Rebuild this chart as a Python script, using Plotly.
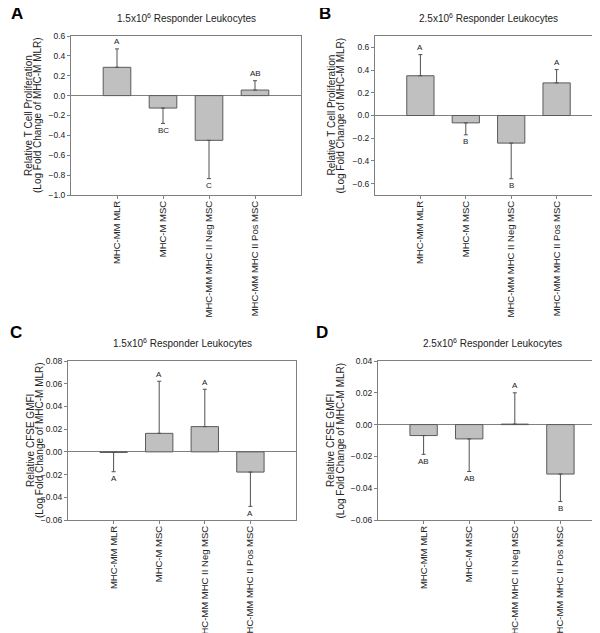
import plotly.graph_objects as go

# ---------------- data ----------------
categories = ["MHC-MM MLR", "MHC-M MSC", "MHC-MM MHC II Neg MSC", "MHC-MM MHC II Pos MSC"]

a_mean = [0.285, -0.125, -0.45, 0.056]
a_err = [0.185, 0.155, 0.385, 0.094]
a_letters = ["A", "BC", "C", "AB"]

b_mean = [0.35, -0.065, -0.243, 0.287]
b_err = [0.186, 0.105, 0.314, 0.117]
b_letters = ["A", "B", "B", "A"]

c_mean = [-0.0005, 0.0163, 0.0222, -0.0178]
c_err = [0.017, 0.0459, 0.0329, 0.0302]
c_letters = ["A", "A", "A", "A"]

d_mean = [-0.0069, -0.009, 0.0003, -0.0311]
d_err = [0.0118, 0.0205, 0.0197, 0.0173]
d_letters = ["AB", "AB", "A", "B"]

panel_letters = ["A", "B", "C", "D"]
panel_titles = ["1.5x10<sup>6</sup> Responder Leukocytes", "2.5x10<sup>6</sup> Responder Leukocytes",
                "1.5x10<sup>6</sup> Responder Leukocytes", "2.5x10<sup>6</sup> Responder Leukocytes"]
ytitle_line1 = ["Relative T Cell Proliferation", "Relative T Cell Proliferation",
                "Relative CFSE GMFI", "Relative CFSE GMFI"]
ytitle_line2 = ["(Log Fold Change of MHC-M MLR)"] * 4
yranges = [[-1.0, 0.6], [-0.7, 0.7], [-0.06, 0.08], [-0.06, 0.04]]
ytickvals = [[-1.0, -0.8, -0.6, -0.4, -0.2, 0.0, 0.2, 0.4, 0.6],
             [-0.6, -0.4, -0.2, 0.0, 0.2, 0.4, 0.6],
             [-0.06, -0.04, -0.02, 0.0, 0.02, 0.04, 0.06, 0.08],
             [-0.06, -0.04, -0.02, 0.0, 0.02, 0.04]]
yformats = [".1f", ".1f", ".2f", ".2f"]

# ---------------- layout (pixel boxes) ----------------
W, H = 600, 633
boxes = [  # x0, x1, ytop, ybottom in pixels
    (63, 293, 28, 187),
    (367, 594, 28, 187),
    (60, 288, 353, 512),
    (370, 598, 353, 512),
]
ytitle_x = [(20.5, 29.5), (323, 332), (22.5, 31.5), (322.5, 332)]
letter_pos = [(9, 6), (317, 6), (8, 324), (314, 324)]

FRAME = "#808080"
TXT = "#222222"
FONT = "Liberation Sans, Arial, sans-serif"

fig = go.Figure()
means = [a_mean, b_mean, c_mean, d_mean]
errs = [a_err, b_err, c_err, d_err]
letters = [a_letters, b_letters, c_letters, d_letters]
annotations = []

for i in range(4):
    sfx = "" if i == 0 else str(i + 1)
    m, e = means[i], errs[i]
    up = [ee if mm >= 0 else 0 for mm, ee in zip(m, e)]
    dn = [0 if mm >= 0 else ee for mm, ee in zip(m, e)]
    fig.add_trace(go.Bar(
        x=categories, y=m, width=0.6,
        marker=dict(color="#c0c0c0", line=dict(color="#5a5a5a", width=1)),
        error_y=dict(type="data", symmetric=False, array=up, arrayminus=dn,
                     color="#505050", thickness=1, width=2),
        xaxis="x" + sfx, yaxis="y" + sfx, showlegend=False,
    ))
    x0, x1, yt, yb = boxes[i]
    fig.layout["xaxis" + sfx] = dict(
        domain=[x0 / W, x1 / W], anchor="y" + sfx, range=[-1, 4],
        showline=True, mirror=True, linecolor=FRAME, linewidth=1,
        ticks="outside", ticklen=3, tickcolor=FRAME, tickangle=-90,
        ticklabelstandoff=-2,
        tickfont=dict(size=9.5, color=TXT, family=FONT), showgrid=False, zeroline=False,
        automargin=False,
    )
    fig.layout["yaxis" + sfx] = dict(
        domain=[1 - yb / H, 1 - yt / H], anchor="x" + sfx, range=yranges[i],
        tickvals=ytickvals[i], tickformat=yformats[i],
        showline=True, mirror=True, linecolor=FRAME, linewidth=1,
        ticks="outside", ticklen=3, tickcolor=FRAME,
        tickfont=dict(size=8.5, color=TXT, family=FONT), showgrid=False,
        zeroline=True, zerolinecolor=FRAME, zerolinewidth=1,
        automargin=False,
    )
    # significance letters
    for cat, mm, ee, lt in zip(categories, m, e, letters[i]):
        pos = mm >= 0
        annotations.append(dict(
            x=cat, y=mm + ee if pos else mm - ee, xref="x" + sfx, yref="y" + sfx,
            text=lt, showarrow=False, yshift=7 if pos else -7,
            xanchor="center", yanchor="middle",
            font=dict(size=8, color=TXT, family=FONT),
        ))
    # panel title
    annotations.append(dict(
        x=(x0 + x1) / 2 / W, y=1 - (yt - 18) / H, xref="paper", yref="paper",
        text=panel_titles[i], showarrow=False, xanchor="center", yanchor="middle",
        font=dict(size=10, color=TXT, family=FONT),
    ))
    # y-axis title (two lines, tight spacing)
    for lx, txt in zip(ytitle_x[i], (ytitle_line1[i], ytitle_line2[i])):
        annotations.append(dict(
            x=lx / W, y=1 - (yt + yb) / 2 / H, xref="paper", yref="paper",
            text=txt, showarrow=False, textangle=-90,
            xanchor="center", yanchor="middle",
            font=dict(size=10, color=TXT, family=FONT),
        ))
    # panel letter
    px, py = letter_pos[i]
    annotations.append(dict(
        x=px / W, y=1 - py / H, xref="paper", yref="paper",
        text="<b>" + panel_letters[i] + "</b>", showarrow=False,
        xanchor="center", yanchor="middle",
        font=dict(size=17, color="#000000", family=FONT),
    ))

fig.update_layout(
    width=W, height=H, margin=dict(l=0, r=0, t=0, b=0, autoexpand=False),
    paper_bgcolor="white", plot_bgcolor="white",
    annotations=annotations, bargap=0.4,
    font=dict(family=FONT, color=TXT),
)

fig.write_html("out.html")
